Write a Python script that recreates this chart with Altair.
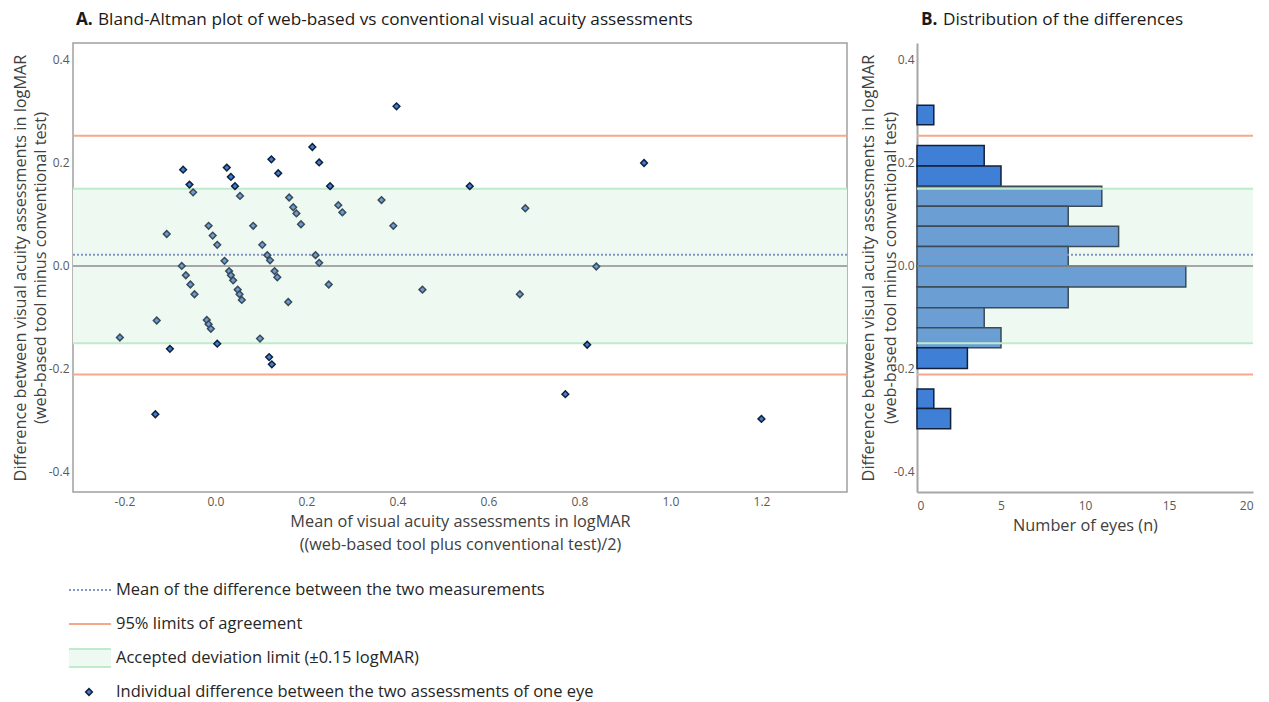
import altair as alt
import pandas as pd

# ---------------- Panel A data (Bland-Altman scatter) ----------------
mean_va = [-0.210, -0.132, -0.129, -0.107, -0.100, -0.071, -0.057, -0.049, -0.074, -0.065,
           -0.055, -0.046, -0.015, -0.006, 0.004, -0.019, -0.015, -0.010, 0.004, 0.020,
           0.030, 0.034, 0.039, 0.049, 0.053, 0.058, 0.025, 0.034, 0.043, 0.054,
           0.083, 0.103, 0.114, 0.120, 0.098, 0.118, 0.124, 0.123, 0.138, 0.130,
           0.136, 0.162, 0.171, 0.178, 0.188, 0.160, 0.213, 0.228, 0.220, 0.228,
           0.252, 0.270, 0.279, 0.249, 0.365, 0.391, 0.398, 0.455, 0.559, 0.681,
           0.669, 0.769, 0.817, 0.837, 0.942, 1.200]
diff_va = [-0.139, -0.288, -0.106, 0.062, -0.161, 0.187, 0.158, 0.143, 0.000, -0.018,
           -0.036, -0.055, 0.078, 0.059, 0.041, -0.105, -0.113, -0.122, -0.151, 0.010,
           -0.010, -0.018, -0.028, -0.046, -0.055, -0.066, 0.191, 0.173, 0.155, 0.136,
           0.078, 0.041, 0.021, 0.011, -0.141, -0.177, -0.191, 0.207, 0.180, -0.010,
           -0.022, 0.133, 0.114, 0.102, 0.081, -0.070, 0.231, 0.201, 0.021, 0.006,
           0.155, 0.118, 0.104, -0.036, 0.128, 0.078, 0.310, -0.046, 0.155, 0.112,
           -0.055, -0.249, -0.153, -0.001, 0.200, -0.297]

MEAN_DIFF = 0.022
LOA_UPPER = 0.253
LOA_LOWER = -0.211
ACCEPTED = 0.15

# ---------------- Panel B data (histogram of differences) ----------------
bin_lo = [0.274, 0.194, 0.155, 0.116, 0.077, 0.038, 0.000, -0.041, -0.081, -0.120,
          -0.159, -0.199, -0.277, -0.316]
bin_hi = [0.312, 0.234, 0.194, 0.155, 0.116, 0.077, 0.038, 0.000, -0.041, -0.081,
          -0.120, -0.159, -0.239, -0.277]
n_eyes = [1, 4, 5, 11, 9, 12, 9, 16, 9, 4, 5, 3, 1, 2]

# ---------------- Text ----------------
title_a_bold = "A."
title_a_rest = "Bland-Altman plot of web-based vs conventional visual acuity assessments"
title_b_bold = "B."
title_b_rest = "Distribution of the differences"
y_title = ["Difference between visual acuity assessments in logMAR",
           "(web-based tool minus conventional test)"]
x_title_a = ["Mean of visual acuity assessments in logMAR",
             "((web-based tool plus conventional test)/2)"]
x_title_b = "Number of eyes (n)"
legend_labels = ["Mean of the difference between the two measurements",
                 "95% limits of agreement",
                 "Accepted deviation limit (\u00b10.15 logMAR)",
                 "Individual difference between the two assessments of one eye"]
y_ticks = [-0.4, -0.2, 0.0, 0.2, 0.4]
x_ticks_a = [-0.2, 0.0, 0.2, 0.4, 0.6, 0.8, 1.0, 1.2]
x_ticks_b = [0, 5, 10, 15, 20]

# ---------------- Style ----------------
FONT = "Open Sans"
C_LOA = "#f4a98a"
C_BAND = "#eef9f1"
C_BAND_EDGE = "#bfeacb"
C_MEAN = "#8396c9"
C_ZERO = "#8c8c8c"
C_LABEL = "#595959"
C_TITLE = "#404040"
W_A, H = 774, 449
W_B = 336

num_expr = "datum.value < 0 ? '-' + format(-datum.value, '.1f') : format(datum.value, '.1f')"
y_scale = alt.Scale(domain=[-0.439, 0.433], nice=False, zero=False)

def y_axis(label_pad, title_pad, domain, line_h):
    return alt.Axis(values=y_ticks, labelExpr=num_expr, ticks=False, grid=False,
                    domain=domain, domainColor="#a6a6a6", domainWidth=2,
                    labelPadding=label_pad, labelFontSize=12, labelColor=C_LABEL,
                    labelFont=FONT, title=y_title, titleFont=FONT, titleFontSize=16.3,
                    titleFontWeight="normal", titleColor=C_TITLE, titlePadding=title_pad,
                    titleLineHeight=line_h)

# data frames
pts = pd.DataFrame({"mean": mean_va, "diff": diff_va})
pts["zone"] = ["in" if abs(d) <= ACCEPTED else "out" for d in diff_va]
band_df = pd.DataFrame({"lo": [-ACCEPTED], "hi": [ACCEPTED]})
edge_df = pd.DataFrame({"y": [-ACCEPTED, ACCEPTED]})
loa_df = pd.DataFrame({"y": [LOA_LOWER, LOA_UPPER]})
zero_df = pd.DataFrame({"y": [0.0]})
mean_df = pd.DataFrame({"y": [MEAN_DIFF]})
hist = pd.DataFrame({"lo": bin_lo, "hi": bin_hi, "n": n_eyes})
hist["zero"] = 0
hist["zone"] = ["in" if abs((a + b) / 2) < ACCEPTED else "out" for a, b in zip(bin_lo, bin_hi)]


def ref_layers(width, ax):
    band = alt.Chart(band_df).mark_rect(color=C_BAND).encode(
        y=alt.Y("lo:Q", scale=y_scale, axis=ax), y2="hi:Q",
        x=alt.value(0), x2=alt.value(width))
    edges = alt.Chart(edge_df).mark_rule(color=C_BAND_EDGE, strokeWidth=2).encode(
        y=alt.Y("y:Q", scale=y_scale, axis=ax))
    loa = alt.Chart(loa_df).mark_rule(color=C_LOA, strokeWidth=2).encode(
        y=alt.Y("y:Q", scale=y_scale, axis=ax))
    zero = alt.Chart(zero_df).mark_rule(color=C_ZERO, strokeWidth=1.5).encode(
        y=alt.Y("y:Q", scale=y_scale, axis=ax))
    mean = alt.Chart(mean_df).mark_rule(color=C_MEAN, strokeWidth=2, strokeDash=[2, 2]).encode(
        y=alt.Y("y:Q", scale=y_scale, axis=ax))
    return band, edges, loa, zero, mean


def title_layers(x0, bold, rest):
    t1 = alt.Chart(pd.DataFrame({"t": [bold]})).mark_text(
        font=FONT, fontSize=17.2, fontWeight="bold", color="#1a1a1a", align="left",
        baseline="middle").encode(text="t:N", x=alt.value(x0), y=alt.value(-23))
    t2 = alt.Chart(pd.DataFrame({"t": [rest]})).mark_text(
        font=FONT, fontSize=17.2, color="#1a1a1a", align="left",
        baseline="middle").encode(text="t:N", x=alt.value(x0 + 22), y=alt.value(-23))
    return t1, t2

# ---------------- Panel A ----------------
axA = y_axis(4, 0, False, 20)
bandA, edgesA, loaA, zeroA, meanA = ref_layers(W_A, axA)
points = alt.Chart(pts).mark_point(shape="diamond", filled=True, size=45, strokeWidth=1.5,
                                   opacity=1).encode(
    x=alt.X("mean:Q", scale=alt.Scale(domain=[-0.313, 1.388], nice=False, zero=False),
            axis=alt.Axis(values=x_ticks_a, labelExpr=num_expr, ticks=False, grid=False,
                          domain=False, labelPadding=4, labelFontSize=12, labelColor=C_LABEL,
                          labelFont=FONT, title=x_title_a, titleFont=FONT, titleFontSize=16.3,
                          titleFontWeight="normal", titleColor=C_TITLE, titlePadding=6,
                          titleLineHeight=23)),
    y=alt.Y("diff:Q", scale=y_scale, axis=axA),
    fill=alt.Fill("zone:N", scale=alt.Scale(domain=["in", "out"], range=["#6b9fd4", "#3f80d6"]),
                  legend=None),
    stroke=alt.Stroke("zone:N", scale=alt.Scale(domain=["in", "out"], range=["#3b4a56", "#12203a"]),
                      legend=None))
tA1, tA2 = title_layers(3, title_a_bold, title_a_rest)
panelA = alt.layer(bandA, edgesA, loaA, zeroA, meanA, points, tA1, tA2).properties(
    width=W_A, height=H, view=alt.ViewBackground(stroke="#a0a0a0", strokeWidth=1.5))

# ---------------- Panel B ----------------
axB = y_axis(3, -5, True, 22)
bandB, edgesB, loaB, zeroB, meanB = ref_layers(W_B, axB)
bars = alt.Chart(hist).mark_rect(strokeWidth=1.5).encode(
    x=alt.X("zero:Q", scale=alt.Scale(domain=[0, 20], nice=False, zero=True),
            axis=alt.Axis(values=x_ticks_b, format="d", ticks=False, grid=False, domain=True,
                          domainColor="#a6a6a6", domainWidth=2, labelPadding=8,
                          labelFontSize=12, labelColor=C_LABEL, labelFont=FONT,
                          title=x_title_b, titleFont=FONT, titleFontSize=16.3,
                          titleFontWeight="normal", titleColor=C_TITLE, titlePadding=6)),
    x2="n:Q",
    y=alt.Y("lo:Q", scale=y_scale, axis=axB), y2="hi:Q",
    fill=alt.Fill("zone:N", scale=alt.Scale(domain=["in", "out"], range=["#6fa9dc", "#5595e1"]),
                  legend=None),
    stroke=alt.Stroke("zone:N", scale=alt.Scale(domain=["in", "out"], range=["#4d5a62", "#1c2733"]),
                      legend=None))
tB1, tB2 = title_layers(4, title_b_bold, title_b_rest)
panelB = alt.layer(bandB, bars, edgesB, loaB, zeroB, meanB, tB1, tB2).properties(
    width=W_B, height=H)

# ---------------- Legend ----------------
leg = pd.DataFrame({"row": [0, 1, 2, 3], "label": legend_labels})
ly = alt.Y("row:Q", scale=alt.Scale(domain=[0, 3], range=[12, 114]), axis=None)
SX0, SX1 = -4, 38
leg_text = alt.Chart(leg).mark_text(font=FONT, fontSize=16.5, color="#262626", align="left",
                                    baseline="middle").encode(
    x=alt.value(43), y=ly, text="label:N")
leg_mean = alt.Chart(leg).transform_filter("datum.row == 0").mark_rule(
    color=C_MEAN, strokeWidth=2, strokeDash=[2, 2]).encode(x=alt.value(SX0), x2=alt.value(SX1), y=ly)
leg_loa = alt.Chart(leg).transform_filter("datum.row == 1").mark_rule(
    color=C_LOA, strokeWidth=2).encode(x=alt.value(SX0), x2=alt.value(SX1), y=ly)
leg_band = alt.Chart(leg).transform_filter("datum.row == 2").mark_rule(
    color=C_BAND, strokeWidth=18).encode(x=alt.value(SX0), x2=alt.value(SX1), y=ly)
leg_band_t = alt.Chart(leg).transform_filter("datum.row == 2").mark_rule(
    color=C_BAND_EDGE, strokeWidth=2, yOffset=-9).encode(x=alt.value(SX0), x2=alt.value(SX1), y=ly)
leg_band_b = alt.Chart(leg).transform_filter("datum.row == 2").mark_rule(
    color=C_BAND_EDGE, strokeWidth=2, yOffset=9).encode(x=alt.value(SX0), x2=alt.value(SX1), y=ly)
leg_pt = alt.Chart(leg).transform_filter("datum.row == 3").mark_point(
    shape="diamond", filled=True, size=45, strokeWidth=1.5, opacity=1,
    fill="#3f80d6", stroke="#12203a").encode(x=alt.value(16), y=ly)
legend = alt.layer(leg_band, leg_band_t, leg_band_b, leg_mean, leg_loa, leg_pt, leg_text).properties(
    width=600, height=120)

top = alt.hconcat(panelA, panelB, spacing=10)
chart = alt.vconcat(top, legend, spacing=23).properties(
    padding={"left": 3, "top": 2, "right": 0, "bottom": 0}
).configure(font=FONT).configure_view(stroke="transparent")

chart.save("out.html", embed_options={"renderer": "svg", "actions": False})
